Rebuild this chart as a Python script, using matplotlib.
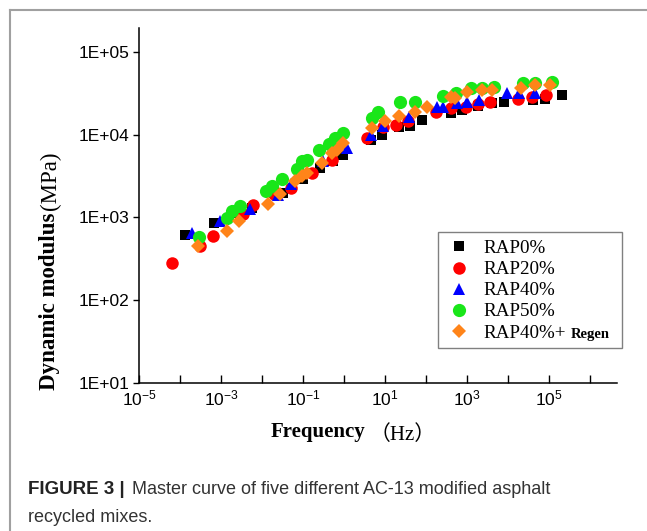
import numpy as np
import matplotlib
matplotlib.use('Agg')
import matplotlib.pyplot as plt
from matplotlib.lines import Line2D
from matplotlib.patches import Rectangle
from matplotlib.ticker import FixedLocator, FuncFormatter

# log10(frequency, Hz) and log10(dynamic modulus, MPa)
rap0_logf = [-3.88, -3.16, -2.60, -2.25, -1.49, -0.99, -0.59, -0.26, -0.02, 0.65, 0.94,
             1.35, 1.61, 1.91, 2.60, 2.89, 3.27, 3.60, 3.90, 4.60, 4.90, 5.31]
rap0_logE = [2.785, 2.93, 3.05, 3.12, 3.30, 3.46, 3.60, 3.68, 3.75, 3.94, 4.00,
             4.09, 4.11, 4.18, 4.26, 4.30, 4.35, 4.38, 4.40, 4.42, 4.43, 4.48]

rap20_logf = [-4.20, -3.51, -3.20, -2.46, -2.21, -1.70, -1.30, -0.79, -0.30, 0.57, 0.96,
              1.27, 1.57, 2.24, 2.60, 2.98, 3.27, 3.56, 4.25, 4.58, 4.94]
rap20_logE = [2.45, 2.66, 2.78, 3.04, 3.15, 3.28, 3.36, 3.54, 3.70, 3.96, 4.09,
              4.12, 4.16, 4.27, 4.32, 4.34, 4.37, 4.40, 4.43, 4.46, 4.48]

rap40_logf = [-3.71, -3.02, -2.30, -1.60, -1.28, -0.50, 0.07, 0.65, 0.96, 1.59, 2.26,
              2.42, 2.75, 2.99, 3.30, 3.97, 4.28, 4.66]
rap40_logE = [2.816, 2.96, 3.10, 3.27, 3.40, 3.68, 3.84, 4.00, 4.10, 4.22, 4.34,
              4.34, 4.38, 4.40, 4.42, 4.50, 4.50, 4.51]

rap50_logf = [-3.53, -2.85, -2.74, -2.54, -1.89, -1.76, -1.52, -1.15, -1.03, -0.91, -0.60,
              -0.36, -0.22, -0.03, 0.68, 0.84, 1.37, 1.73, 2.42, 2.73, 3.11, 3.36, 3.66,
              4.36, 4.66, 5.07]
rap50_logE = [2.77, 2.99, 3.08, 3.14, 3.32, 3.38, 3.46, 3.58, 3.68, 3.69, 3.82,
              3.89, 3.96, 4.02, 4.20, 4.28, 4.40, 4.40, 4.47, 4.51, 4.56, 4.56, 4.58,
              4.62, 4.62, 4.64]

regen_logf = [-3.55, -2.86, -2.56, -1.86, -1.56, -1.20, -1.03, -0.91, -0.54, -0.30, -0.18,
              -0.03, 0.68, 1.00, 1.35, 1.73, 2.03, 2.62, 2.71, 3.01, 3.36, 3.62, 4.33,
              4.66, 5.02]
regen_logE = [2.65, 2.84, 2.96, 3.16, 3.28, 3.44, 3.50, 3.54, 3.66, 3.78, 3.82,
              3.90, 4.08, 4.17, 4.23, 4.28, 4.34, 4.46, 4.44, 4.52, 4.54, 4.54, 4.57,
              4.60, 4.60]

labels = ['RAP0%', 'RAP20%', 'RAP40%', 'RAP50%', 'RAP40%+']
y_ticks = [1e1, 1e2, 1e3, 1e4, 1e5]
x_exponents = list(range(-5, 7))

series = [
    (rap0_logf, rap0_logE, 's', 'black', 7.5),
    (rap20_logf, rap20_logE, 'o', '#ff0000', 9),
    (rap40_logf, rap40_logE, '^', '#0000ff', 9),
    (rap50_logf, rap50_logE, 'o', '#19e619', 9.5),
    (regen_logf, regen_logE, 'D', '#ff8419', 7.5),
]

W, H = 647, 531
fig = plt.figure(figsize=(6.47, 5.31), dpi=100)
ax = fig.add_axes([0.2148, 0.2787, 0.7388, 0.6686])

for (lf, le, mk, col, ms), lab in zip(series, labels):
    ax.plot(np.power(10.0, lf), np.power(10.0, le), linestyle='none', marker=mk,
            color=col, markersize=ms, markeredgewidth=0, label=lab)

ax.set_xscale('log')
ax.set_yscale('log')
ax.set_xlim(1e-5, 10 ** 6.66)
ax.set_ylim(1e1, 10 ** 5.29)

ax.spines['top'].set_visible(False)
ax.spines['right'].set_visible(False)
for s in ['left', 'bottom']:
    ax.spines[s].set_linewidth(1.1)

ax.yaxis.set_major_locator(FixedLocator(y_ticks))
ax.yaxis.set_minor_locator(FixedLocator([]))
ax.yaxis.set_major_formatter(FuncFormatter(lambda v, p: '1E+%02d' % round(np.log10(v))))
ax.xaxis.set_major_locator(FixedLocator([10.0 ** e for e in x_exponents]))
ax.xaxis.set_minor_locator(FixedLocator([]))


def xfmt(v, p):
    e = int(round(np.log10(v)))
    if e % 2 == 0:
        return ''
    return r'$\mathregular{10^{%d}}$' % e


ax.xaxis.set_major_formatter(FuncFormatter(xfmt))
ax.tick_params(axis='y', direction='out', length=4, width=1, labelsize=12.5, pad=3)
ax.tick_params(axis='x', direction='in', length=6, width=1, labelsize=12.5, pad=4)
for t in ax.get_yticklabels() + ax.get_xticklabels():
    t.set_fontfamily('Liberation Sans')

# y label: bold words, regular unit
ylab = fig.text(50 / W, 1 - 390 / H, 'Dynamic modulus', rotation=90, ha='center',
                va='bottom', fontsize=16.5, fontweight='bold', family='Liberation Serif')
fig.text(365 / W, 1 - 432 / H, 'Frequency', ha='right', va='center', fontsize=15,
         fontweight='bold', family='Liberation Serif')
fig.text(370 / W, 1 - 435 / H, '（Hz）', ha='left', va='center', fontsize=15,
         family=['Liberation Serif', 'Noto Sans CJK SC'])

# legend without its own frame; the box is drawn separately so it can hold "Regen"
leg = ax.legend(loc='upper left', bbox_to_anchor=(0.625, 0.425), frameon=False,
                prop={'family': 'Liberation Serif', 'size': 13.7},
                handletextpad=0.6, labelspacing=0.2, borderpad=0.4,
                handlelength=1.4, borderaxespad=0)
fig.add_artist(Rectangle((438 / W, 1 - 348 / H), 184 / W, 116 / H, fill=False,
                         edgecolor='#808080', lw=1.0, transform=fig.transFigure))

fig.canvas.draw()
yb = ylab.get_window_extent()
fig.text(50 / W, (yb.y1 + 3) / fig.bbox.height, '(MPa)', rotation=90, ha='center',
         va='bottom', fontsize=16.5, family='Liberation Serif')

tb = leg.get_texts()[4].get_window_extent()
fig.text((tb.x1 + 5) / fig.bbox.width, (tb.y0 + 4) / fig.bbox.height, 'Regen',
         ha='left', va='baseline', fontsize=10.5, fontweight='bold', family='Liberation Serif')

# frame around the figure panel
fig.add_artist(Line2D([10 / W, 1], [1 - 10 / H, 1 - 10 / H], color='#a0a0a0', lw=1.5))
fig.add_artist(Line2D([10 / W, 10 / W], [0, 1 - 10 / H], color='#a0a0a0', lw=1.5))

# caption
fig.text(28 / W, 1 - 490 / H, 'FIGURE 3 |', ha='left', va='center', fontsize=13.5,
         fontweight='bold', family='Liberation Sans', color='#222222')
fig.text(132 / W, 1 - 490 / H, 'Master curve of five different AC-13 modified asphalt',
         ha='left', va='center', fontsize=13, family='Liberation Sans', color='#333333')
fig.text(28 / W, 1 - 517 / H, 'recycled mixes.', ha='left', va='center', fontsize=13,
         family='Liberation Sans', color='#333333')

plt.savefig('out.png', dpi=100)
